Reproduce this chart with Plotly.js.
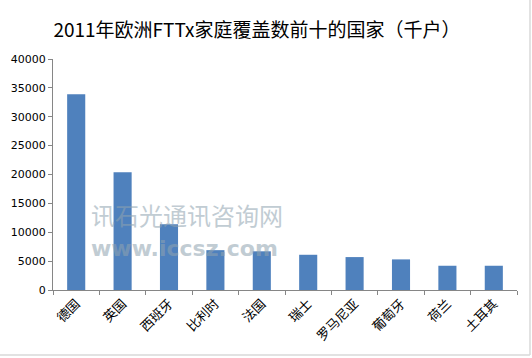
<!DOCTYPE html>
<html>
<head>
<meta charset="utf-8">
<script src="https://cdn.plot.ly/plotly-3.0.1.min.js"></script>
<style>
html,body{margin:0;padding:0;background:#fff;}
#chart{width:532px;height:358px;}
</style>
</head>
<body>
<div id="chart"></div>
<script>
const chartTitle = '2011年欧洲FTTx家庭覆盖数前十的国家（千户）';
const countries = ['德国','英国','西班牙','比利时','法国','瑞士','罗马尼亚','葡萄牙','荷兰','土耳其'];
const homesPassed = [33900, 20400, 11400, 6900, 6700, 6100, 5700, 5300, 4200, 4200];
const yTicks = [0, 5000, 10000, 15000, 20000, 25000, 30000, 35000, 40000];
const watermarkCn = '讯石光通讯咨询网';
const watermarkUrl = 'www.iccsz.com';

const trace = {
  type: 'bar',
  x: countries,
  y: homesPassed,
  marker: {color: '#4F81BD', line: {width: 0}},
  hoverinfo: 'x+y'
};

const layout = {
  width: 532, height: 358,
  margin: {l: 53, r: 15, t: 59, b: 68, pad: 0},
  paper_bgcolor: '#ffffff',
  plot_bgcolor: '#ffffff',
  showlegend: false,
  bargap: 0.61,
  title: {
    text: chartTitle,
    font: {family: '"Noto Sans CJK SC", "Noto Sans", sans-serif', size: 19, color: '#000'},
    x: 0.483, xref: 'container', xanchor: 'center',
    y: 0.915, yref: 'container', yanchor: 'middle'
  },
  xaxis: {
    type: 'category',
    tickangle: -45,
    tickson: 'boundaries',
    ticks: 'outside', ticklen: 4, tickcolor: '#868686', tickwidth: 1,
    showline: true, linecolor: '#868686', linewidth: 1,
    showgrid: false, zeroline: false,
    tickfont: {family: '"Noto Sans CJK SC", sans-serif', size: 13, color: '#000'}
  },
  yaxis: {
    range: [0, 40000],
    tickvals: yTicks,
    ticktext: yTicks.map(String),
    ticks: 'outside', ticklen: 4, tickcolor: '#868686', tickwidth: 1,
    showline: true, linecolor: '#868686', linewidth: 1,
    showgrid: false, zeroline: false,
    tickfont: {family: '"DejaVu Sans", sans-serif', size: 11, color: '#000'}
  },
  shapes: [
    {type: 'line', xref: 'paper', yref: 'paper', x0: 1.028, x1: 1.028, y0: -0.281, y1: 1.26,
     line: {color: '#d9d9d9', width: 1.5}},
    {type: 'line', xref: 'paper', yref: 'paper', x0: -0.12, x1: 1.028, y0: -0.281, y1: -0.281,
     line: {color: '#d9d9d9', width: 1.5}}
  ],
  annotations: [
    {text: watermarkCn, xref: 'paper', yref: 'paper', x: 0.08, y: 0.245, xanchor: 'left', yanchor: 'bottom',
     showarrow: false, opacity: 0.55, borderpad: 0,
     font: {family: '"Noto Sans CJK SC", sans-serif', size: 24, color: '#8fa3b0'}},
    {text: watermarkUrl, xref: 'paper', yref: 'paper', x: 0.08, y: 0.24, xanchor: 'left', yanchor: 'top',
     showarrow: false, opacity: 0.55, borderpad: 0,
     font: {family: '"DejaVu Sans", sans-serif', size: 22, weight: 700, color: '#8fa3b0'}}
  ]
};

Plotly.newPlot('chart', [trace], layout, {displayModeBar: false, staticPlot: true});
</script>
</body>
</html>
